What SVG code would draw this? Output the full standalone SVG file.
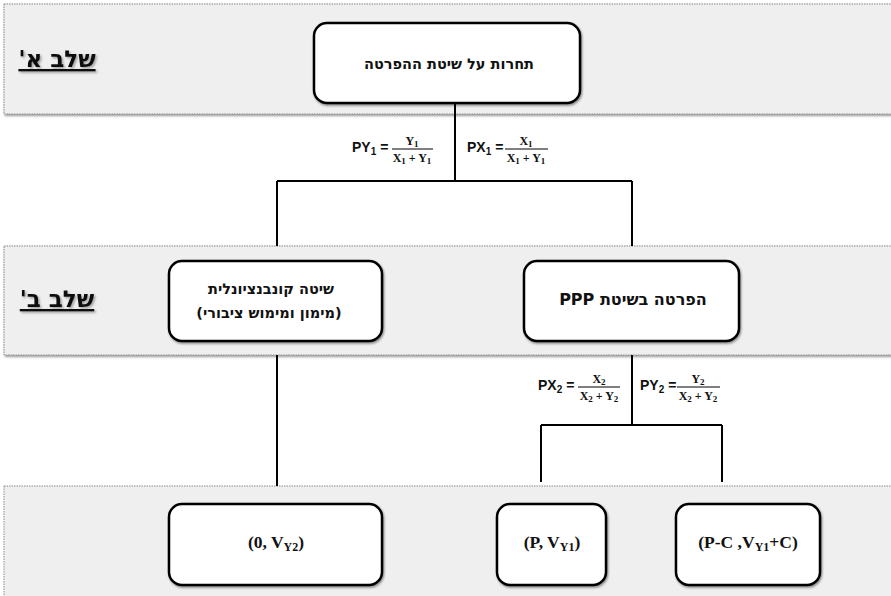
<svg xmlns="http://www.w3.org/2000/svg" width="891" height="596" viewBox="0 0 891 596">
<defs>
<filter id="sh" x="-10%" y="-10%" width="120%" height="130%">
<feDropShadow dx="1" dy="1.5" stdDeviation="1" flood-color="#000" flood-opacity="0.45"/>
</filter>
<filter id="tsh" x="-10%" y="-20%" width="130%" height="150%">
<feDropShadow dx="1.5" dy="1.5" stdDeviation="0.8" flood-color="#000" flood-opacity="0.35"/>
</filter>
</defs>
<style>
.band{fill:#efefef;stroke:#8a8a8a;stroke-width:1;stroke-dasharray:1.5 1}
.node{fill:#fff;stroke:#000;stroke-width:2.5}
.stage{font-family:"DejaVu Sans","Liberation Sans",sans-serif;font-weight:bold;font-size:23px;fill:#111;text-decoration:underline}
.heb{font-family:"DejaVu Sans","Liberation Sans",sans-serif;font-weight:bold;font-size:14.5px;fill:#111}
.hebs{font-family:"DejaVu Sans","Liberation Serif",serif;font-weight:bold;font-size:16px;fill:#111}
.pay{font-family:"Liberation Serif","DejaVu Serif",serif;font-weight:bold;font-size:17.5px;fill:#111}
.f{font-family:"Liberation Sans",Arial,sans-serif;font-weight:bold;font-size:14px;fill:#111}
.fr{font-family:"Liberation Serif",serif;font-weight:bold;font-size:12px;fill:#111}
.c{stroke:#000;stroke-width:2;fill:none}
.fl{stroke:#000;stroke-width:1;fill:none}
</style>

<g id="bands">
<rect class="band" x="4" y="4" width="892" height="110" filter="url(#sh)"/>
<rect class="band" x="4" y="246" width="892" height="109" filter="url(#sh)"/>
<rect class="band" x="4" y="486" width="892" height="120"/>
<text class="stage" x="57" y="67" text-anchor="middle" direction="rtl" filter="url(#tsh)">שלב א'</text>
<text class="stage" x="57" y="307" text-anchor="middle" direction="rtl" filter="url(#tsh)">שלב ב'</text>
</g>

<g id="connectors">
<path class="c" d="M455 103 V181 M277 181 H632 M277 181 V246 M632 181 V246"/>
<path class="c" d="M277 355 V486"/>
<path class="c" d="M632 355 V425 M541 425 H722 M541 425 V482 M722 425 V482"/>
</g>

<g id="formulas">
<text class="f" x="352" y="152">PY<tspan dy="3" font-size="10">1</tspan><tspan dy="-3"> =</tspan></text>
<line class="fl" x1="392" y1="149" x2="433" y2="149"/>
<text class="fr" x="412" y="145" text-anchor="middle">Y<tspan dy="2" font-size="9">1</tspan></text>
<text class="fr" x="412" y="162" text-anchor="middle">X<tspan dy="2" font-size="9">1</tspan><tspan dy="-2"> + Y</tspan><tspan dy="2" font-size="9">1</tspan></text>

<text class="f" x="467" y="152">PX<tspan dy="3" font-size="10">1</tspan><tspan dy="-3"> =</tspan></text>
<line class="fl" x1="505" y1="149" x2="548" y2="149"/>
<text class="fr" x="526" y="145" text-anchor="middle">X<tspan dy="2" font-size="9">1</tspan></text>
<text class="fr" x="526" y="162" text-anchor="middle">X<tspan dy="2" font-size="9">1</tspan><tspan dy="-2"> + Y</tspan><tspan dy="2" font-size="9">1</tspan></text>

<text class="f" x="538" y="390">PX<tspan dy="3" font-size="10">2</tspan><tspan dy="-3"> =</tspan></text>
<line class="fl" x1="578" y1="387" x2="620" y2="387"/>
<text class="fr" x="599" y="383" text-anchor="middle">X<tspan dy="2" font-size="9">2</tspan></text>
<text class="fr" x="599" y="400" text-anchor="middle">X<tspan dy="2" font-size="9">2</tspan><tspan dy="-2"> + Y</tspan><tspan dy="2" font-size="9">2</tspan></text>

<text class="f" x="640" y="390">PY<tspan dy="3" font-size="10">2</tspan><tspan dy="-3"> =</tspan></text>
<line class="fl" x1="677" y1="387" x2="720" y2="387"/>
<text class="fr" x="698" y="383" text-anchor="middle">Y<tspan dy="2" font-size="9">2</tspan></text>
<text class="fr" x="698" y="400" text-anchor="middle">X<tspan dy="2" font-size="9">2</tspan><tspan dy="-2"> + Y</tspan><tspan dy="2" font-size="9">2</tspan></text>
</g>

<g id="n-top">
<rect class="node" x="314" y="23" width="266" height="80" rx="13" filter="url(#sh)"/>
<text class="heb" x="449" y="69" text-anchor="middle" direction="rtl" font-size="16">תחרות על שיטת ההפרטה</text>
</g>

<g id="n-conv">
<rect class="node" x="169" y="261" width="213" height="80" rx="13" filter="url(#sh)"/>
<text class="heb" x="271" y="294" text-anchor="middle" direction="rtl">שיטה קונבנציונלית</text>
<text class="heb" x="269" y="318" text-anchor="middle" direction="rtl">(מימון ומימוש ציבורי)</text>
</g>

<g id="n-ppp">
<rect class="node" x="524" y="261" width="215" height="80" rx="13" filter="url(#sh)"/>
<text class="hebs" x="633" y="305" text-anchor="middle" direction="rtl">הפרטה בשיטת PPP</text>
</g>

<g id="n-b1">
<rect class="node" x="169" y="504" width="213" height="81" rx="13" filter="url(#sh)"/>
<text class="pay" x="276" y="548" text-anchor="middle">(0, V<tspan dy="3" font-size="12">Y2</tspan><tspan dy="-3">)</tspan></text>
</g>

<g id="n-b2">
<rect class="node" x="497" y="504" width="109" height="81" rx="13" filter="url(#sh)"/>
<text class="pay" x="552" y="548" text-anchor="middle">(P, V<tspan dy="3" font-size="12">Y1</tspan><tspan dy="-3">)</tspan></text>
</g>

<g id="n-b3">
<rect class="node" x="676" y="504" width="144" height="81" rx="13" filter="url(#sh)"/>
<text class="pay" x="748" y="548" text-anchor="middle">(P-C ,V<tspan dy="3" font-size="12">Y1</tspan><tspan dy="-3">+C)</tspan></text>
</g>
</svg>
